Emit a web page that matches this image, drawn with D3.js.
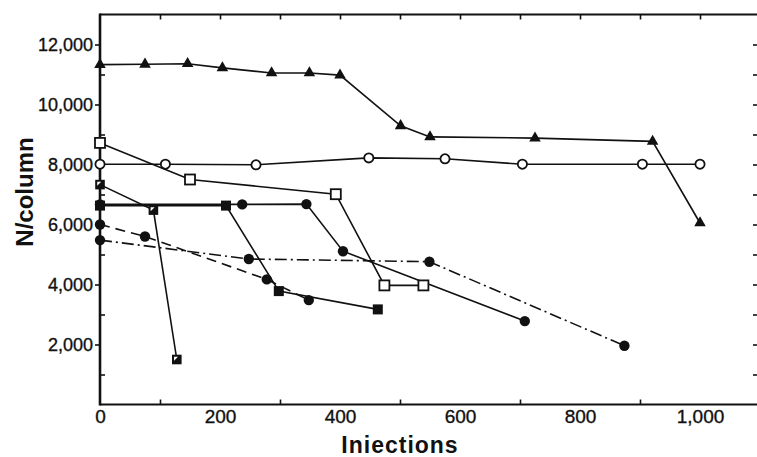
<!DOCTYPE html>
<html>
<head>
<meta charset="utf-8">
<script src="https://cdn.jsdelivr.net/npm/d3@7"></script>
<style>
  html, body { margin: 0; padding: 0; background: #fff; }
  svg { display: block; }
  .tick text { font-family: "Liberation Sans", Arial, sans-serif; font-size: 18px; fill: #111; stroke: #111; stroke-width: 0.35px; }
  .tick line { stroke: #111; stroke-width: 1.6px; }
  .domain { stroke: none; }
</style>
</head>
<body>
<svg id="chart" width="757" height="457"></svg>
<script>
// Column efficiency (plates per column) against number of injections.

// filled triangles, solid line
const triX = [0, 75, 146, 204, 286, 349, 400, 501, 550, 725, 921, 1000];
const triY = [11330, 11340, 11360, 11220, 11050, 11050, 10980, 9290, 8920, 8880, 8770, 6050];

// open circles, solid line
const openCircX = [0, 109, 260, 448, 575, 704, 904, 1000];
const openCircY = [8010, 8010, 7990, 8220, 8190, 8010, 8010, 8010];

// open squares, solid line
const openSqX = [0, 150, 393, 474, 539];
const openSqY = [8720, 7500, 7010, 3970, 3970];

// filled squares, solid line
const fillSqX = [0, 210, 298, 463];
const fillSqY = [6630, 6630, 3780, 3170];

// filled circles, solid line
const fillCircX = [0, 237, 344, 405, 708];
const fillCircY = [6670, 6670, 6680, 5110, 2780];

// half-filled squares, solid line
const halfSqX = [0, 89, 128];
const halfSqY = [7330, 6480, 1500];

// filled circles, dashed line
const dashCircX = [0, 75, 278, 348];
const dashCircY = [6000, 5600, 4170, 3480];

// filled circles, dash-dot line
const dotDashX = [0, 248, 549, 874];
const dotDashY = [5480, 4850, 4760, 1960];

// axis ticks
const xLabelTicks = [0, 200, 400, 600, 800, 1000];
const xMinorTicks = [100, 300, 500, 700, 900];
const xTopTicks = [100, 200, 300, 400, 500, 600, 700, 800, 900, 1000];
const yLabelTicks = [2000, 4000, 6000, 8000, 10000, 12000];
const yMinorTicks = [1000, 3000, 5000, 7000, 9000, 11000];
const yRightTicks = [1000, 2000, 3000, 4000, 5000, 6000, 7000, 8000, 9000, 10000, 11000, 12000];

const svg = d3.select("#chart");
const plotLeft = 100, plotRight = 757, plotTop = 14.5, plotBottom = 404.5;

const x = d3.scaleLinear().domain([0, 1095]).range([plotLeft, plotRight]);
const y = d3.scaleLinear().domain([0, 13000]).range([plotBottom, plotTop]);

const ink = "#111";

// frame lines
svg.append("line").attr("x1", plotLeft).attr("x2", plotRight).attr("y1", plotTop).attr("y2", plotTop)
  .attr("stroke", ink).attr("stroke-width", 2.2);
svg.append("line").attr("x1", plotLeft).attr("x2", plotRight).attr("y1", plotBottom).attr("y2", plotBottom)
  .attr("stroke", ink).attr("stroke-width", 2.2);
svg.append("line").attr("x1", plotLeft).attr("x2", plotLeft).attr("y1", plotTop - 1).attr("y2", plotBottom + 1)
  .attr("stroke", ink).attr("stroke-width", 2.6);

// left axis: labelled ticks outward, odd thousands inward
svg.append("g").attr("transform", `translate(${plotLeft},0)`)
  .call(d3.axisLeft(y).tickValues(yLabelTicks).tickSize(5).tickPadding(2).tickFormat(d3.format(",")));
svg.append("g").attr("transform", `translate(${plotLeft},0)`)
  .call(d3.axisRight(y).tickValues(yMinorTicks).tickSize(5).tickFormat(""));

// right side tick marks
svg.append("g").attr("transform", `translate(${plotRight},0)`)
  .call(d3.axisLeft(y).tickValues(yRightTicks).tickSize(4).tickFormat(""));

// top ticks pointing down
svg.append("g").attr("transform", `translate(0,${plotTop})`)
  .call(d3.axisBottom(x).tickValues(xTopTicks).tickSize(5).tickFormat(""));

// bottom: minor ticks pointing up, labels below
svg.append("g").attr("transform", `translate(0,${plotBottom})`)
  .call(d3.axisTop(x).tickValues(xMinorTicks).tickSize(5).tickFormat(""));
const xb = svg.append("g").attr("transform", `translate(0,${plotBottom})`)
  .call(d3.axisBottom(x).tickValues(xLabelTicks).tickSize(0).tickPadding(5).tickFormat(d3.format(",")));
xb.selectAll("text").style("font-size", "19px");

// axis titles
svg.append("text")
  .attr("x", 400).attr("y", 453)
  .attr("text-anchor", "middle")
  .style("font-family", "'Liberation Sans', Arial, sans-serif")
  .style("font-weight", "bold").style("font-size", "23px")
  .style("letter-spacing", "1px").attr("fill", ink)
  .text("Iniections");

svg.append("text")
  .attr("transform", "translate(33,192) rotate(-90)")
  .attr("text-anchor", "middle")
  .style("font-family", "'Liberation Sans', Arial, sans-serif")
  .style("font-weight", "bold").style("font-size", "24px")
  .attr("fill", ink)
  .text("N/column");

const zip = (xs, ys) => xs.map((v, i) => [v, ys[i]]);
const line = d3.line().x(d => x(d[0])).y(d => y(d[1]));

const series = [
  { pts: zip(triX, triY), marker: "tri", dash: null },
  { pts: zip(openCircX, openCircY), marker: "ocirc", dash: null },
  { pts: zip(openSqX, openSqY), marker: "osq", dash: null },
  { pts: zip(fillSqX, fillSqY), marker: "fsq", dash: null },
  { pts: zip(fillCircX, fillCircY), marker: "fcirc", dash: null },
  { pts: zip(halfSqX, halfSqY), marker: "hsq", dash: null },
  { pts: zip(dashCircX, dashCircY), marker: "fcirc", dash: "10,6" },
  { pts: zip(dotDashX, dotDashY), marker: "fcirc", dash: "12,4,2,4" }
];

const lines = svg.append("g");
series.forEach(s => {
  lines.append("path")
    .datum(s.pts)
    .attr("d", line)
    .attr("fill", "none")
    .attr("stroke", ink)
    .attr("stroke-width", 1.6)
    .attr("stroke-dasharray", s.dash);
});

const marks = svg.append("g");
const tri = d3.symbol().type(d3.symbolTriangle).size(58);
series.forEach(s => {
  const g = marks.selectAll(null).data(s.pts).enter().append("g")
    .attr("transform", d => `translate(${x(d[0])},${y(d[1])})`);
  if (s.marker === "tri") {
    g.append("path").attr("d", tri()).attr("fill", ink);
  } else if (s.marker === "ocirc") {
    g.append("circle").attr("r", 4.6).attr("fill", "#fff").attr("stroke", ink).attr("stroke-width", 1.8);
  } else if (s.marker === "fcirc") {
    g.append("circle").attr("r", 5.2).attr("fill", ink);
  } else if (s.marker === "osq") {
    g.append("rect").attr("x", -5).attr("y", -5).attr("width", 10).attr("height", 10)
      .attr("fill", "#fff").attr("stroke", ink).attr("stroke-width", 1.8);
  } else if (s.marker === "fsq") {
    g.append("rect").attr("x", -5).attr("y", -5).attr("width", 10).attr("height", 10).attr("fill", ink);
  } else if (s.marker === "hsq") {
    g.append("rect").attr("x", -4.8).attr("y", -4.8).attr("width", 9.6).attr("height", 9.6).attr("fill", ink);
    g.append("path").attr("d", "M-2.8,-2.8L1.2,-2.8L-2.8,1.2Z").attr("fill", "#fff");
  }
});
</script>
</body>
</html>
